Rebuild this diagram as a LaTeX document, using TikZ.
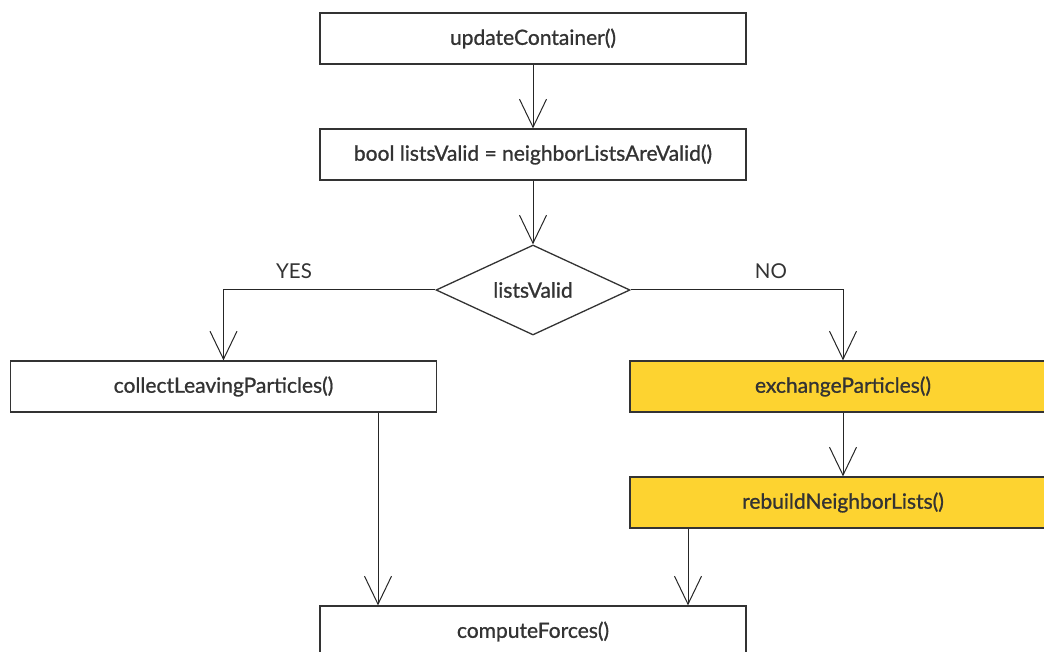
\documentclass[tikz,border=0pt]{standalone}
\usepackage{fontspec}
\setmainfont{Lato}
\newfontfamily\boxfont[FakeBold=1.0]{Lato}
\usetikzlibrary{shapes.geometric,arrows.meta}
\definecolor{ink}{HTML}{333333}
\definecolor{hilite}{HTML}{FDD330}
\begin{document}
\begin{tikzpicture}[x=1pt,y=-1pt,
  stepbox/.style={draw=ink, line width=1.3pt, minimum width=426pt, minimum height=51pt,
    inner sep=0pt, font=\boxfont\fontsize{21}{24}\selectfont, text=ink},
  hot/.style={stepbox, fill=hilite},
  decision/.style={diamond, draw=ink, line width=1.3pt, aspect=2.155, minimum width=194pt,
    minimum height=90pt, inner sep=0pt, font=\boxfont\fontsize{21}{24}\selectfont, text=ink},
  flow/.style={draw=black!85, line width=1pt, -{Straight Barb[length=28pt,width=27pt]}},
  branch/.style={font=\fontsize{20.5}{24}\selectfont, text=ink}]
\clip (0,0) rectangle (1044,652);

% process steps
\node[stepbox] (update)   at (533,38.5)  {updateContainer()};
\node[stepbox] (check)    at (533,154.5) {bool listsValid = neighborListsAreValid()};
\node[decision] (valid)   at (533,290)   {listsValid};
\node[stepbox] (collect)  at (223.5,386.5) {collectLeavingParticles()};
\node[hot]     (exchange) at (843,386.5) {exchangeParticles()};
\node[hot]     (rebuild)  at (843,502.5) {rebuildNeighborLists()};
\node[stepbox] (forces)   at (533,631.5) {computeForces()};

% branch labels
\node[branch] (yes) at (294,271) {YES};
\node[branch] (no)  at (771,271) {NO};

% columns of the two joining arrows
\coordinate (xl) at (378,0);
\coordinate (xr) at (688,0);

% connectors
\draw[flow] (update) -- (check);
\draw[flow] (check) -- (valid);
\draw[flow] (valid.west) -| (collect.north);
\draw[flow] (valid.east) -| (exchange.north);
\draw[flow] (exchange) -- (rebuild);
\draw[flow] (collect.south -| xl) -- (forces.north -| xl);
\draw[flow] (rebuild.south -| xr) -- (forces.north -| xr);
\end{tikzpicture}
\end{document}
